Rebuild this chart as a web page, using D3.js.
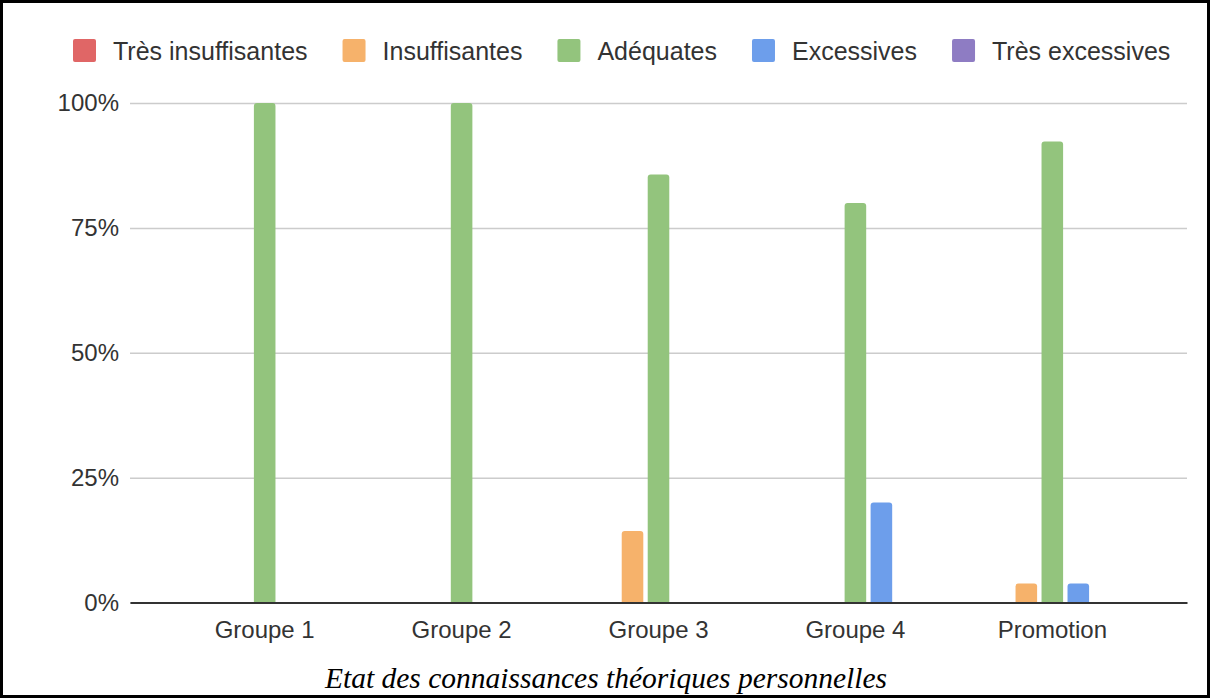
<!DOCTYPE html>
<html><head><meta charset="utf-8">
<script src="https://cdn.jsdelivr.net/npm/d3@7"></script>
<style>html,body{margin:0;padding:0;background:#fff;}svg{display:block;}</style>
</head><body>
<script>
const categories = ["Groupe 1", "Groupe 2", "Groupe 3", "Groupe 4", "Promotion"];
const seriesNames = ["Très insuffisantes", "Insuffisantes", "Adéquates", "Excessives", "Très excessives"];
const seriesColors = ["#e06666", "#f6b26b", "#93c47d", "#6d9eeb", "#8e7cc3"];
const tresInsuffisantes = [0, 0, 0, 0, 0];
const insuffisantes = [0, 0, 14.3, 0, 3.8];
const adequates = [100, 100, 85.7, 80, 92.3];
const excessives = [0, 0, 0, 20, 3.8];
const tresExcessives = [0, 0, 0, 0, 0];
const yTicks = [0, 25, 50, 75, 100];
const caption = "Etat des connaissances théoriques personnelles";

const seriesValues = [tresInsuffisantes, insuffisantes, adequates, excessives, tresExcessives];

const W = 1210, H = 698;
const svg = d3.select("body").append("svg").attr("width", W).attr("height", H);

const plotLeft = 130, plotRight = 1187, plotTop = 103, plotBottom = 602.5;

const x0 = d3.scaleBand().domain(categories).range([plotLeft, plotRight]).paddingInner(0.34).paddingOuter(0.354);
const x1 = d3.scaleBand().domain(seriesNames).range([0, x0.bandwidth()]).paddingInner(0.17).paddingOuter(0.085);
const y = d3.scaleLinear().domain([0, 100]).range([plotBottom, plotTop]);

const textColor = "#333";

// gridlines
const gAxisY = svg.append("g").attr("transform", `translate(${plotLeft},0)`)
  .call(d3.axisLeft(y).tickValues(yTicks).tickFormat(d => d + "%").tickSize(-(plotRight - plotLeft)).tickPadding(11));
gAxisY.select(".domain").remove();
gAxisY.selectAll(".tick line").attr("stroke", "#cccccc").attr("stroke-width", 1.5);
gAxisY.selectAll(".tick text").attr("fill", textColor).style("font-family", "'Liberation Sans', Arial, sans-serif").style("font-size", "24px");

// bars
const data = [];
categories.forEach((c, i) => seriesNames.forEach((s, j) => data.push({c, s, j, v: seriesValues[j][i]})));
const bw = x1.bandwidth(), r = 3;
svg.append("g").selectAll("path").data(data.filter(d => d.v > 0)).join("path")
  .attr("fill", d => seriesColors[d.j])
  .attr("d", d => {
    const xl = x0(d.c) + x1(d.s), yt = y(d.v), yb = y(0);
    return `M${xl},${yb}V${yt + r}Q${xl},${yt} ${xl + r},${yt}H${xl + bw - r}Q${xl + bw},${yt} ${xl + bw},${yt + r}V${yb}Z`;
  });

// x axis
const gAxisX = svg.append("g").attr("transform", `translate(0,${plotBottom})`)
  .call(d3.axisBottom(x0).tickSize(0).tickPadding(18));
gAxisX.select(".domain").attr("stroke", "#333").attr("stroke-width", 2);
gAxisX.selectAll(".tick text").attr("fill", textColor).style("font-family", "'Liberation Sans', Arial, sans-serif").style("font-size", "24px");

// legend
const legend = svg.append("g");
let lx = 73;
seriesNames.forEach((s, j) => {
  legend.append("rect").attr("x", lx).attr("y", 39).attr("width", 23).attr("height", 23).attr("rx", 2).attr("fill", seriesColors[j]);
  const t = legend.append("text").attr("x", lx + 23 + 17).attr("y", 51).attr("dy", "0.35em")
    .attr("fill", textColor).style("font-family", "'Liberation Sans', Arial, sans-serif").style("font-size", "25px").text(s);
  lx += 23 + 17 + t.node().getComputedTextLength() + 35;
});

// caption
svg.append("text").attr("x", 606).attr("y", 688).attr("text-anchor", "middle")
  .style("font-family", "'Liberation Serif', 'Times New Roman', serif").style("font-style", "italic").style("font-size", "29.5px")
  .attr("fill", "#000").text(caption);

// border
svg.append("rect").attr("x", 1.5).attr("y", 1.5).attr("width", W - 3).attr("height", H - 3)
  .attr("fill", "none").attr("stroke", "#000").attr("stroke-width", 3);
</script>
</body></html>
